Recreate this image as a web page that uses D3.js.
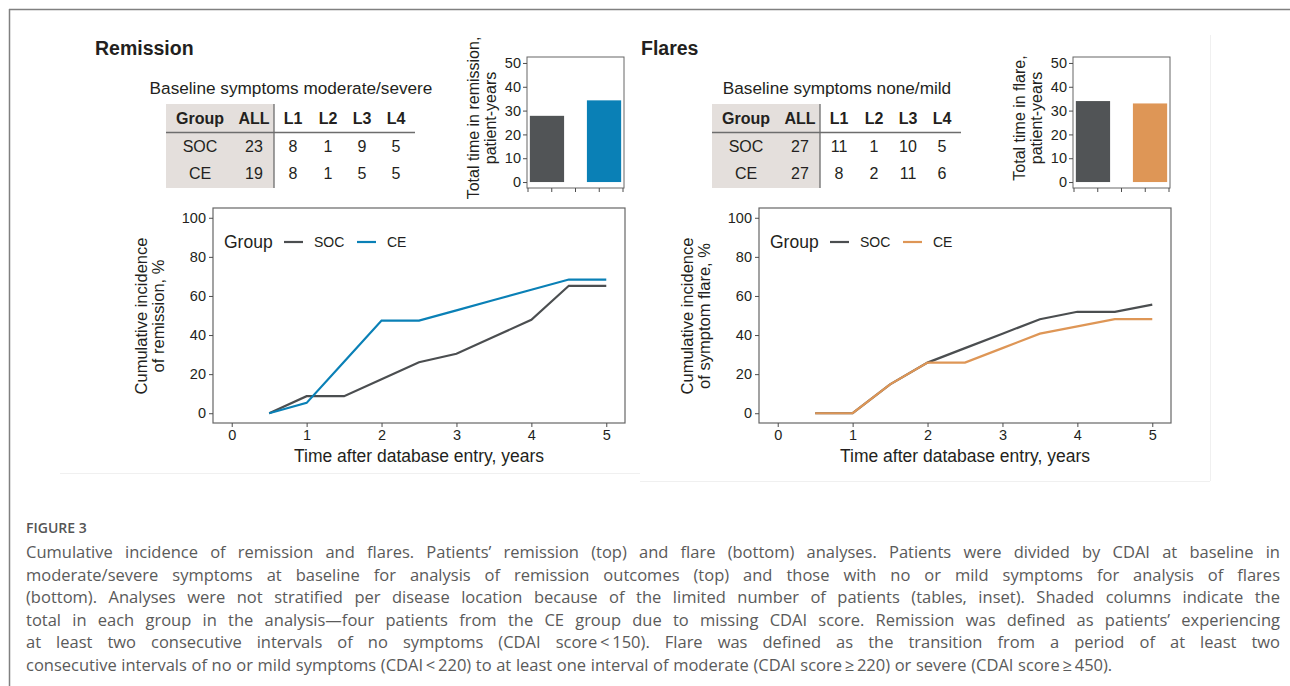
<!DOCTYPE html>
<html>
<head>
<meta charset="utf-8">
<script src="https://cdn.jsdelivr.net/npm/d3@7"></script>
<style>
  body { margin: 0; background: #fff; }
  svg text { font-family: "Liberation Sans", Arial, sans-serif; }
  svg text.cap { font-family: "Open Sans", "Lato", sans-serif; }
</style>
</head>
<body>
<svg id="fig" width="1290" height="686"></svg>
<script>
// data
var years = [0.5, 1, 1.5, 2, 2.5, 3, 3.5, 4, 4.5, 5];
var remissionSOC = [0, 8.7, 8.7, 17.4, 26.1, 30.4, 39.1, 47.8, 65.2, 65.2];
var remissionCE = [0, 5.3, 26.3, 47.4, 47.4, 52.6, 57.9, 63.2, 68.4, 68.4];
var flareSOC = [0, 0, 14.8, 25.9, 33.3, 40.7, 48.1, 51.9, 51.9, 55.6];
var flareCE = [0, 0, 14.8, 25.9, 25.9, 33.3, 40.7, 44.4, 48.1, 48.1];

var groups = ["SOC", "CE"];
var remissionTime = [27.8, 34.3];
var flareTime = [34, 33];

var tableCols = ["Group", "ALL", "L1", "L2", "L3", "L4"];
var remissionTable = [["SOC", 23, 8, 1, 9, 5], ["CE", 19, 8, 1, 5, 5]];
var flareTable = [["SOC", 27, 11, 1, 10, 5], ["CE", 27, 8, 2, 11, 6]];

var xTicks = [0, 1, 2, 3, 4, 5];
var yTicks = [0, 20, 40, 60, 80, 100];
var barTicks = [0, 10, 20, 30, 40, 50];

var captionHead = "FIGURE 3";
var captionLines = [
  "Cumulative incidence of remission and flares. Patients\u2019 remission (top) and flare (bottom) analyses. Patients were divided by CDAI at baseline in",
  "moderate/severe symptoms at baseline for analysis of remission outcomes (top) and those with no or mild symptoms for analysis of flares",
  "(bottom). Analyses were not stratified per disease location because of the limited number of patients (tables, inset). Shaded columns indicate the",
  "total in each group in the analysis\u2014four patients from the CE group due to missing CDAI score. Remission was defined as patients\u2019 experiencing",
  "at least two consecutive intervals of no symptoms (CDAI score\u2009<\u2009150). Flare was defined as the transition from a period of at least two",
  "consecutive intervals of no or mild symptoms (CDAI\u2009<\u2009220) to at least one interval of moderate (CDAI score\u2009\u2265\u2009220) or severe (CDAI score\u2009\u2265\u2009450)."
];

var svg = d3.select("#fig");
var textCol = "#231f20";
var axisCol = "#4d4d4d";
var socCol = "#4b4e50";

// page frame
svg.append("line").attr("x1", 9).attr("x2", 1290).attr("y1", 9.5).attr("y2", 9.5)
  .attr("stroke", "#808080").attr("stroke-width", 1.5);
svg.append("line").attr("x1", 9.5).attr("x2", 9.5).attr("y1", 9).attr("y2", 686)
  .attr("stroke", "#808080").attr("stroke-width", 1.5);
// faint edges of the pasted figure images
svg.append("path").attr("d", "M60,473.5H640M640,481.5H1210M1210.5,35V481")
  .attr("fill", "none").attr("stroke", "#f0f0f0");

function drawPanel(dx, opts) {
  var g = svg.append("g").attr("transform", "translate(" + dx + ",0)");

  // title
  g.append("text").attr("x", 95).attr("y", 55)
    .attr("font-size", 19.5).attr("font-weight", "bold").attr("fill", textCol)
    .text(opts.title);

  // subtitle
  g.append("text").attr("x", 291).attr("y", 94).attr("text-anchor", "middle")
    .attr("font-size", 17.2).attr("fill", textCol).text(opts.subtitle);

  // table
  var colX = [200, 254, 293, 328, 362, 396];
  var rowY = [124, 152, 179];
  g.append("rect").attr("x", 166).attr("y", 104).attr("width", 108).attr("height", 84)
    .attr("fill", "#e4dfdc");
  g.append("line").attr("x1", 166).attr("x2", 415).attr("y1", 132.5).attr("y2", 132.5)
    .attr("stroke", "#6d6d6d").attr("stroke-width", 1.3);
  g.append("line").attr("x1", 274).attr("x2", 274).attr("y1", 104).attr("y2", 188)
    .attr("stroke", "#6d6d6d").attr("stroke-width", 1.3);
  g.selectAll(".hd").data(tableCols).enter().append("text")
    .attr("x", function(d, i) { return colX[i]; }).attr("y", rowY[0])
    .attr("text-anchor", "middle").attr("font-size", 16).attr("font-weight", "bold")
    .attr("fill", textCol).text(function(d) { return d; });
  opts.table.forEach(function(row, r) {
    g.selectAll(".r" + r).data(row).enter().append("text")
      .attr("x", function(d, i) { return colX[i]; }).attr("y", rowY[r + 1])
      .attr("text-anchor", "middle").attr("font-size", 16).attr("fill", textCol)
      .text(function(d) { return d; });
  });

  // inset bar chart
  var bx0 = 527, bx1 = 624;
  var bxScale = d3.scaleBand().domain(groups).range([bx0, bx1])
    .paddingInner(0.4).paddingOuter(0.05);
  var byScale = d3.scaleLinear().domain([-2.5, 52.5]).range([188, 57]);
  g.selectAll(".bar").data(opts.bars).enter().append("rect")
    .attr("x", function(d, i) { return bxScale(groups[i]); })
    .attr("width", bxScale.bandwidth())
    .attr("y", function(d) { return byScale(d); })
    .attr("height", function(d) { return byScale(0) - byScale(d); })
    .attr("fill", function(d, i) { return i === 0 ? "#515456" : opts.color; });
  g.append("rect").attr("x", bx0).attr("y", 57).attr("width", bx1 - bx0).attr("height", 131)
    .attr("fill", "none").attr("stroke", "#666").attr("stroke-width", 1);
  var byAxis = g.append("g").attr("transform", "translate(" + bx0 + ",0)")
    .call(d3.axisLeft(byScale).tickValues(barTicks).tickSize(4).tickPadding(2));
  byAxis.select(".domain").remove();
  byAxis.selectAll("line").attr("stroke", axisCol);
  byAxis.selectAll("text").attr("font-size", 14.5).attr("fill", textCol)
    .attr("font-family", "Liberation Sans, Arial, sans-serif");
  var tickScale = d3.scaleLinear().domain([0, 4]).range([bx0 + 1, bx1 - 1]);
  g.selectAll(".btk").data(d3.range(5)).enter().append("line")
    .attr("x1", function(d) { return tickScale(d); })
    .attr("x2", function(d) { return tickScale(d); })
    .attr("y1", 188).attr("y2", 192).attr("stroke", axisCol);
  var bt = g.append("text").attr("transform", "translate(479,118) rotate(-90)")
    .attr("text-anchor", "middle").attr("font-size", 16).attr("fill", textCol);
  bt.append("tspan").attr("x", 0).attr("y", 0).text(opts.barLabel[0]);
  bt.append("tspan").attr("x", 0).attr("y", 16.5).text(opts.barLabel[1]);

  // line chart
  var x = d3.scaleLinear().domain([-0.25, 5.25]).range([213, 625]);
  var y = d3.scaleLinear().domain([-5, 105]).range([423, 208]);
  g.append("rect").attr("x", 213).attr("y", 208).attr("width", 412).attr("height", 215)
    .attr("fill", "none").attr("stroke", "#666").attr("stroke-width", 1.2);
  var xa = g.append("g").attr("transform", "translate(0,423)")
    .call(d3.axisBottom(x).tickValues(xTicks).tickFormat(d3.format("d")).tickSize(4).tickPadding(3));
  var ya = g.append("g").attr("transform", "translate(213,0)")
    .call(d3.axisLeft(y).tickValues(yTicks).tickSize(4).tickPadding(3));
  [xa, ya].forEach(function(a) {
    a.select(".domain").remove();
    a.selectAll("line").attr("stroke", axisCol);
    a.selectAll("text").attr("font-size", 14.5).attr("fill", textCol)
      .attr("font-family", "Liberation Sans, Arial, sans-serif");
  });

  var line = d3.line()
    .x(function(d, i) { return x(years[i]); })
    .y(function(d) { return y(d); });
  g.append("path").datum(opts.soc).attr("d", line).attr("fill", "none")
    .attr("stroke", socCol).attr("stroke-width", 2.2);
  g.append("path").datum(opts.ce).attr("d", line).attr("fill", "none")
    .attr("stroke", opts.color).attr("stroke-width", 2.2);

  g.append("text").attr("x", 419).attr("y", 462).attr("text-anchor", "middle")
    .attr("font-size", 17.5).attr("fill", textCol).text("Time after database entry, years");
  var yt = g.append("text").attr("transform", "translate(147,316) rotate(-90)")
    .attr("text-anchor", "middle").attr("font-size", 16.5).attr("fill", textCol);
  yt.append("tspan").attr("x", 0).attr("y", 0).text("Cumulative incidence");
  yt.append("tspan").attr("x", 0).attr("y", 16.5).text(opts.lineLabel);

  // legend
  g.append("text").attr("x", 224).attr("y", 248).attr("font-size", 17.5)
    .attr("fill", textCol).text("Group");
  var legX = [284, 357];
  groups.forEach(function(name, i) {
    g.append("line").attr("x1", legX[i]).attr("x2", legX[i] + 19)
      .attr("y1", 242).attr("y2", 242).attr("stroke-width", 2.2)
      .attr("stroke", i === 0 ? socCol : opts.color);
    g.append("text").attr("x", legX[i] + 30).attr("y", 247).attr("font-size", 14)
      .attr("fill", textCol).text(name);
  });
}

drawPanel(0, {
  title: "Remission",
  subtitle: "Baseline symptoms moderate/severe",
  table: remissionTable,
  bars: remissionTime,
  barLabel: ["Total time in remission,", "patient-years"],
  soc: remissionSOC,
  ce: remissionCE,
  lineLabel: "of remission, %",
  color: "#0a80b6"
});

drawPanel(546, {
  title: "Flares",
  subtitle: "Baseline symptoms none/mild",
  table: flareTable,
  bars: flareTime,
  barLabel: ["Total time in flare,", "patient-years"],
  soc: flareSOC,
  ce: flareCE,
  lineLabel: "of symptom flare, %",
  color: "#de9656"
});

// caption, justified word by word
svg.append("text").attr("class", "cap").attr("x", 26).attr("y", 533)
  .attr("font-size", 14).attr("font-weight", 600).attr("fill", "#555")
  .text(captionHead);

var capLeft = 26, capRight = 1280, capY0 = 558, capStep = 22.6;
captionLines.forEach(function(ln, li) {
  var words = ln.split(" ");
  var yy = capY0 + li * capStep;
  var nodes = words.map(function(w) {
    return svg.append("text").attr("class", "cap").attr("y", yy)
      .attr("font-size", 16.5).attr("fill", "#5a5a5a").text(w);
  });
  var widths = nodes.map(function(n) { return n.node().getComputedTextLength(); });
  var total = d3.sum(widths);
  var gap = (li === captionLines.length - 1) ? 4.6 : (capRight - capLeft - total) / (words.length - 1);
  var cx = capLeft;
  nodes.forEach(function(n, i) {
    n.attr("x", cx);
    cx += widths[i] + gap;
  });
});
</script>
</body>
</html>
